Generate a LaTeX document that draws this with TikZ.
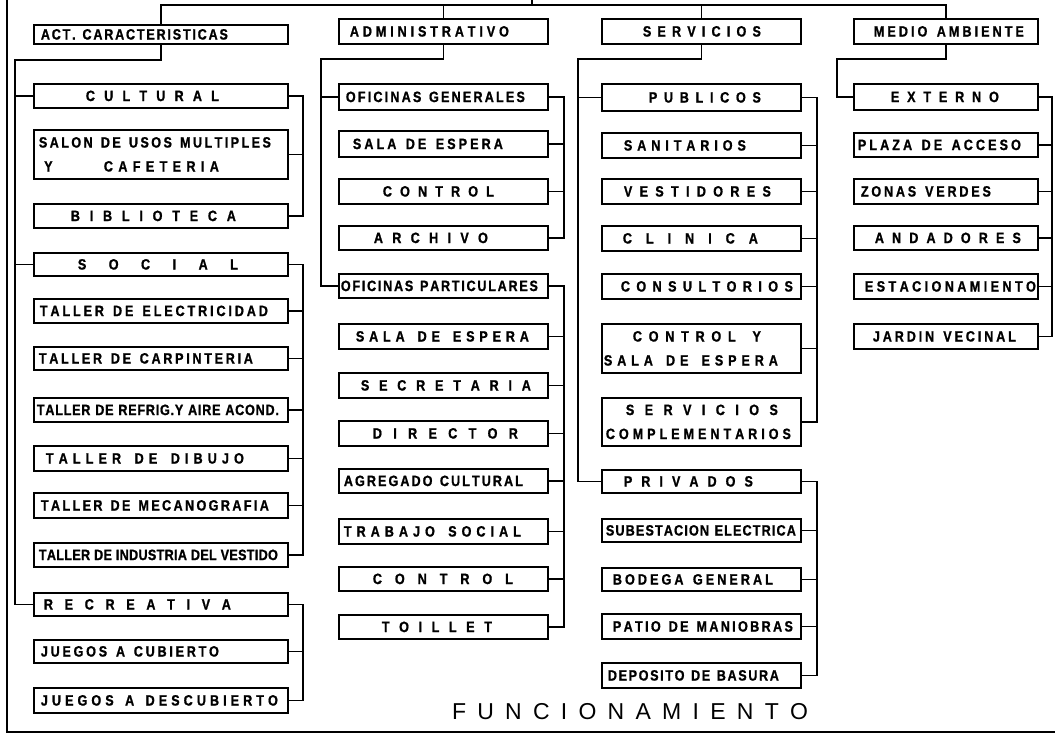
\documentclass[tikz,border=0pt]{standalone}
\usepackage{fontspec}
\usepackage{graphicx}
\newfontfamily\lf{Liberation Sans}[FakeStretch=0.84,FakeBold=1]
\newfontfamily\tf{Liberation Sans}
\newcommand\trkglue{\hskip 0pt plus 1fil minus 1fil\relax}
\newcommand\trkspace{\hskip 0.22em\relax}
\ExplSyntaxOn
\bool_new:N \l_rk_first_bool
\NewDocumentCommand \trk { m }
  {
    \bool_set_true:N \l_rk_first_bool
    \str_map_inline:nn { #1 }
      {
        \bool_if:NF \l_rk_first_bool { \trkglue }
        \bool_set_false:N \l_rk_first_bool
        \str_if_eq:nnTF { ##1 } { ~ } { \trkspace } { ##1 }
      }
  }
\ExplSyntaxOff
\newcommand\lab[3]{\makebox[0pt]{\hspace*{#1pt}\hspace*{#1pt}\hbox to #2pt{\trk{#3}}}}
\newcommand\labb[6]{\vbox{\baselineskip=24pt\lineskiplimit=-100pt\relax\hbox{\lab{#1}{#2}{#3}}\hbox{\lab{#4}{#5}{#6}}}}
\begin{document}
\begin{tikzpicture}[x=1pt,y=-1pt,
  bx/.style={draw, line width=1.8pt, inner sep=0pt, anchor=north west,
             font=\lf\bfseries\fontsize{15}{17}\selectfont},
  ca/.style={bx, minimum width=254},
  cb/.style={bx, minimum width=209},
  cc/.style={bx, minimum width=199},
  cd/.style={bx, minimum width=184},
  cn/.style={line width=1.5pt},
  fr/.style={line width=1.8pt}]
\useasboundingbox (0,0) rectangle (1055,739);

% column 1
\node[ca, minimum height=19] (act) at (33,24) {\lab{-26.5}{187}{ACT. CARACTERISTICAS}};
\node[ca, minimum height=24] (cult) at (33,83) {\lab{-8.5}{133}{CULTURAL}};
\node[ca, minimum height=49] (salon) at (33,129) {\vbox{\baselineskip=24pt\lineskiplimit=-100pt\relax\hbox{\lab{-6}{232}{SALON DE USOS MULTIPLES}}\hbox{\makebox[0pt]{\hspace*{-225pt}Y}\lab{0.5}{115}{CAFETERIA}}}};
\node[ca, minimum height=24] (bib) at (33,203) {\lab{-7.5}{165}{BIBLIOTECA}};
\node[ca, minimum height=23] (soc) at (33,252) {\lab{-3}{160}{SOCIAL}};
\node[ca, minimum height=24] (elec) at (33,298) {\lab{-7}{228}{TALLER DE ELECTRICIDAD}};
\node[ca, minimum height=23] (carp) at (33,346) {\lab{-15}{214}{TALLER DE CARPINTERIA}};
\node[ca, minimum height=24] (refr) at (33,397) {\lab{-3}{242}{TALLER DE REFRIG.Y AIRE ACOND.}};
\node[ca, minimum height=25] (dib) at (33,445) {\lab{-16}{198}{TALLER DE DIBUJO}};
\node[ca, minimum height=25] (meca) at (33,492) {\lab{-6}{228}{TALLER DE MECANOGRAFIA}};
\node[ca, minimum height=24] (ind) at (33,542) {\lab{-2.5}{239}{TALLER DE INDUSTRIA DEL VESTIDO}};
\node[ca, minimum height=23] (recr) at (33,592) {\lab{-23.5}{187}{RECREATIVA}};
\node[ca, minimum height=23] (cub) at (33,639) {\lab{-31}{178}{JUEGOS A CUBIERTO}};
\node[ca, minimum height=25] (desc) at (33,687) {\lab{-1.5}{237}{JUEGOS A DESCUBIERTO}};

% column 2
\node[cb, minimum height=25] (adm) at (338,18) {\lab{-14}{159}{ADMINISTRATIVO}};
\node[cb, minimum height=26] (og) at (338,83) {\lab{-8}{179}{OFICINAS GENERALES}};
\node[cb, minimum height=26] (se1) at (338,130) {\lab{-15.5}{150}{SALA DE ESPERA}};
\node[cb, minimum height=25] (ctl1) at (338,178) {\lab{-5}{111}{CONTROL}};
\node[cb, minimum height=24] (arc) at (338,225) {\lab{-12.5}{114}{ARCHIVO}};
\node[cb, minimum height=24] (op) at (338,273) {\lab{-4}{197}{OFICINAS PARTICULARES}};
\node[cb, minimum height=25] (se2) at (338,323) {\lab{-1}{173}{SALA DE ESPERA}};
\node[cb, minimum height=25] (sec) at (338,372) {\lab{2.5}{170}{SECRETARIA}};
\node[cb, minimum height=25] (dir) at (338,420) {\lab{2}{145}{DIRECTOR}};
\node[cb, minimum height=24] (agr) at (338,468) {\lab{-10}{179}{AGREGADO CULTURAL}};
\node[cb, minimum height=25] (trab) at (338,518) {\lab{-11}{177}{TRABAJO SOCIAL}};
\node[cb, minimum height=24] (ctl2) at (338,566) {\lab{-0.5}{140}{CONTROL}};
\node[cb, minimum height=24] (toil) at (338,614) {\lab{-6.5}{110}{TOILLET}};

% column 3
\node[cc, minimum height=25] (serv) at (601,18) {\lab{0.5}{118}{SERVICIOS}};
\node[cc, minimum height=27] (pub) at (601,83) {\lab{3.5}{112}{PUBLICOS}};
\node[cc, minimum height=25] (san) at (601,132) {\lab{-16.5}{122}{SANITARIOS}};
\node[cc, minimum height=25] (ves) at (601,178) {\lab{-4}{147}{VESTIDORES}};
\node[cc, minimum height=25] (cli) at (601,225) {\lab{-11}{135}{CLINICA}};
\node[cc, minimum height=25] (con) at (601,273) {\lab{5.5}{172}{CONSULTORIOS}};
\node[cc, minimum height=49] (cys) at (601,323) {\labb{-4.5}{128}{CONTROL Y}{-10.5}{174}{SALA DE ESPERA}};
\node[cc, minimum height=48] (sco) at (601,397) {\labb{0.5}{152}{SERVICIOS}{-3}{185}{COMPLEMENTARIOS}};
\node[cc, minimum height=23] (pri) at (601,469) {\lab{-13}{129}{PRIVADOS}};
\node[cc, minimum height=23] (sub) at (601,518) {\lab{-0.5}{190}{SUBESTACION ELECTRICA}};
\node[cc, minimum height=23] (bod) at (601,567) {\lab{-8.5}{160}{BODEGA GENERAL}};
\node[cc, minimum height=25] (pat) at (601,613) {\lab{1.5}{180}{PATIO DE MANIOBRAS}};
\node[cc, minimum height=25] (dep) at (601,662) {\lab{-8}{171}{DEPOSITO DE BASURA}};

% column 4
\node[cd, minimum height=25] (med) at (853,18) {\lab{3}{150}{MEDIO AMBIENTE}};
\node[cd, minimum height=26] (ext) at (853,83) {\lab{-1}{108}{EXTERNO}};
\node[cd, minimum height=24] (pla) at (853,132) {\lab{-6.5}{163}{PLAZA DE ACCESO}};
\node[cd, minimum height=25] (zon) at (853,178) {\lab{-20}{130}{ZONAS VERDES}};
\node[cd, minimum height=24] (anda) at (853,225) {\lab{2}{146}{ANDADORES}};
\node[cd, minimum height=25] (est) at (853,273) {\lab{4.5}{171}{ESTACIONAMIENTO}};
\node[cd, minimum height=25] (jar) at (853,323) {\lab{-1.5}{143}{JARDIN VECINAL}};

% title
\node[font=\tf\fontsize{23}{26}\selectfont, inner sep=0pt] (fun) at (630,712) {\hbox to 356pt{\trk{FUNCIONAMIENTO}}};

% top connectors
\coordinate (top) at (0,5);
\coordinate (root) at (532,0);
\draw[cn] (root) -- (root |- top);
\draw[cn] (act.north) -- (act.north |- top) -- (med.north |- top) -- (med.north);
\draw[cn] (adm.north) -- (adm.north |- top);
\draw[cn] (serv.north) -- (serv.north |- top);

% column 1 connectors
\coordinate (t1) at (15,60);
\coordinate (r1) at (303,0);
\draw[cn] (act.south) |- (t1) |- (recr.west);
\draw[cn] (t1 |- cult.west) -- (cult.west);
\draw[cn] (t1 |- soc.west) -- (soc.west);
\draw[cn] (cult.east) -| (r1 |- bib.east) -- (bib.east);
\draw[cn] (salon.east) -- (salon.east -| r1);
\draw[cn] (soc.east) -| (r1 |- ind.east) -- (ind.east);
\foreach \n in {elec,carp,refr,dib,meca} \draw[cn] (\n.east) -- (\n.east -| r1);
\draw[cn] (recr.east) -| (r1 |- desc.east) -- (desc.east);
\draw[cn] (cub.east) -- (cub.east -| r1);

% column 2 connectors
\coordinate (t2) at (321,59);
\coordinate (r2) at (564,0);
\draw[cn] (adm.south) |- (t2) |- (op.west);
\draw[cn] (t2 |- og.west) -- (og.west);
\draw[cn] (og.east) -| (r2 |- arc.east) -- (arc.east);
\foreach \n in {se1,ctl1} \draw[cn] (\n.east) -- (\n.east -| r2);
\draw[cn] (op.east) -| (r2 |- toil.east) -- (toil.east);
\foreach \n in {se2,sec,dir,agr,trab,ctl2} \draw[cn] (\n.east) -- (\n.east -| r2);

% column 3 connectors
\coordinate (t3) at (578,59);
\coordinate (r3) at (817,0);
\draw[cn] (serv.south) |- (t3) |- (pri.west);
\draw[cn] (t3 |- pub.west) -- (pub.west);
\draw[cn] (pub.east) -| (r3 |- sco.east) -- (sco.east);
\foreach \n in {san,ves,cli,con,cys} \draw[cn] (\n.east) -- (\n.east -| r3);
\draw[cn] (pri.east) -| (r3 |- dep.east) -- (dep.east);
\foreach \n in {sub,bod,pat} \draw[cn] (\n.east) -- (\n.east -| r3);

% column 4 connectors
\coordinate (t4) at (837,59);
\coordinate (r4) at (1052,0);
\draw[cn] (med.south) |- (t4) |- (ext.west);
\draw[cn] (ext.east) -| (r4 |- jar.east) -- (jar.east);
\foreach \n in {pla,zon,anda,est} \draw[cn] (\n.east) -- (\n.east -| r4);

% frame
\draw[fr] (7,0) -- (7,732) -- (1055,732);
\end{tikzpicture}
\end{document}
